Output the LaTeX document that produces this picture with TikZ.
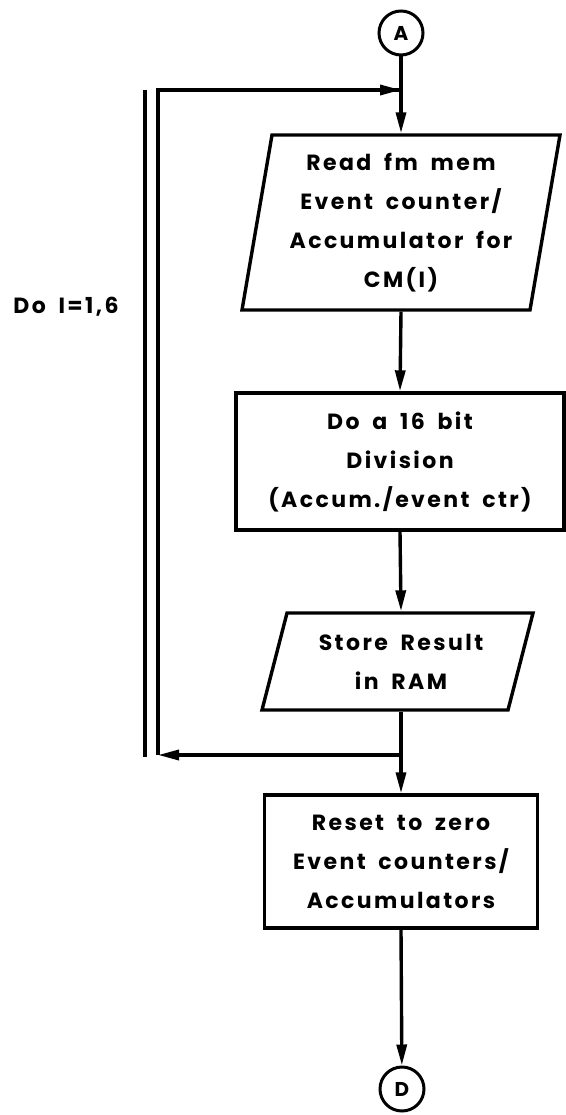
\documentclass[tikz,border=0pt]{standalone}
\usepackage{fontspec}
\setmainfont{Poppins}[LetterSpace=11,WordSpace=1.8]
\usetikzlibrary{arrows.meta}
\begin{document}
\begin{tikzpicture}[x=1pt,y=-1pt,line width=3.4pt,
  lbl/.style={align=center,font=\fontsize{22}{39}\selectfont\bfseries,inner sep=0pt},
  conn/.style={circle,draw,line width=3pt,minimum size=44pt,inner sep=0pt,font=\fontsize{20}{22}\selectfont\bfseries},
  rbox/.style={draw,rectangle,align=center,inner sep=0pt,font=\fontsize{22}{39}\selectfont\bfseries},
  pbox/.style={rectangle,align=center,inner sep=0pt,font=\fontsize{22}{39}\selectfont\bfseries},
  flow/.style={-{Triangle[length=21pt,width=10pt]}}]
\useasboundingbox (0,0) rectangle (565,1115);
% connector circles
\node[conn] (A) at (401,33) {A};
\node[conn] (D) at (402,1089) {D};
% box 1 (parallelogram)
\draw[line join=miter] (272,135) -- (560,135) -- (530,310) -- (242,310) -- cycle;
\node[pbox,minimum width=288pt,minimum height=175pt] (p1) at (401,222.5)
  {Read fm mem\\Event counter/\\Accumulator for\\CM(I)};
% box 2 (rectangle)
\node[rbox,minimum width=328pt,minimum height=137pt] (b2) at (400,461.5)
  {Do a 16 bit\\Division\\(Accum./event ctr)};
% box 3 (parallelogram)
\draw[line join=miter] (287,613) -- (533,613) -- (508,710) -- (262,710) -- cycle;
\node[pbox,minimum width=246pt,minimum height=97pt] (p3) at (401,661.5)
  {Store Result\\in RAM};
% box 4 (rectangle)
\node[rbox,minimum width=273pt,minimum height=133pt] (b4) at (401,861.5)
  {Reset to zero\\Event counters/\\Accumulators};
% loop label
\node[lbl] (loop) at (66,307) {Do I=1,6};
% coordinates
\coordinate (j1) at (401,90);
\coordinate (j2) at (401,755);
\coordinate (lt) at (158,90);
\coordinate (lb) at (158,755);
\coordinate (ot) at (145,90);
\coordinate (ob) at (145,757);
% main flow
\draw[flow] (A) -- (p1.north);
\draw[flow] (p1.south) -- (b2.north);
\draw[flow] (b2.south) -- (p3.north);
\draw[flow] (p3.south) -- (b4.north);
\draw[flow] (b4.south) -- (D);
% loop
\draw[flow] (j2) -- (lb);
\draw[line join=miter] (lb) -- (lt) -- (j1);
\draw[flow] (lt) -- (j1);
\draw (ot) -- (ob);
\end{tikzpicture}
\end{document}
